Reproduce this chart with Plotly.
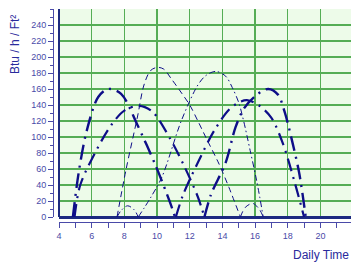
import plotly.graph_objects as go

# Hours and values (Btu/h/Ft²)
e_x = [4.85, 5.2, 5.7, 6.4, 7.0, 7.8, 8.8, 9.9, 10.8, 11.1]
e_y = [0, 55, 108, 150, 160, 154, 115, 65, 18, 0]

se_x = [4.95, 5.3, 6.2, 7.2, 8.0, 8.9, 9.7, 10.8, 11.7, 12.5, 12.9]
se_y = [0, 40, 80, 115, 133, 139, 132, 98, 62, 25, 0]

sw_x = [11.15, 11.6, 12.5, 13.5, 14.4, 15.0, 15.5, 16.2, 17.0, 17.7, 18.4, 19.0]
sw_y = [0, 28, 68, 108, 134, 143, 146, 140, 124, 92, 45, 0]

w_x = [12.9, 13.3, 14.2, 14.8, 15.3, 16.0, 16.8, 17.4, 17.8, 18.3, 18.7, 19.1]
w_y = [0, 28, 68, 112, 135, 151, 160, 153, 132, 92, 55, 0]

a_x = [7.55, 8.1, 8.8, 9.2, 9.6, 10.0, 10.4, 10.9, 11.5, 12.0, 12.5, 13.0, 13.8, 14.4, 15.1]
a_y = [0, 59, 125, 165, 183, 187, 185, 172, 155, 140, 120, 99, 66, 37, 0]
a2_x = [15.1, 15.4, 15.85, 16.25, 16.5]
a2_y = [0, 12, 17, 10, 0]

b_x = [8.85, 9.6, 10.3, 11.5, 12.5, 13.0, 13.6, 14.2, 14.6, 15.0, 15.3, 15.7, 16.1, 16.5]
b_y = [0, 24, 50, 121, 165, 177, 182, 176, 162, 143, 120, 83, 45, 0]
b2_x = [7.55, 7.8, 8.2, 8.6, 8.85]
b2_y = [0, 8, 14, 9, 0]

y_ticks = list(range(0, 241, 20))
x_ticks = list(range(4, 21, 2))

navy = "#0e0e88"
label_col = "#4a4aa8"
title_col = "#2a2a9c"
grid_col = "#55ad55"

fig = go.Figure()

def add(x, y, width, dash):
    fig.add_trace(go.Scatter(x=x, y=y, mode="lines",
                             line=dict(color=navy, width=width, dash=dash, shape="spline", smoothing=0.9),
                             hoverinfo="skip", showlegend=False))

add(e_x, e_y, 2.4, "15px,6px,2px,6px")
add(w_x, w_y, 2.4, "15px,6px,2px,6px")
add(se_x, se_y, 2.2, "13px,6px,2px,6px")
add(sw_x, sw_y, 2.2, "13px,6px,2px,6px")
add(a_x, a_y, 1.0, "6px,4px")
add(a2_x, a2_y, 1.0, "6px,4px")
add(b_x, b_y, 1.0, "6px,3px,1.5px,3px")
add(b2_x, b2_y, 1.0, "6px,3px,1.5px,3px")

W, H = 351, 266
L, R, T, B = 53, 0, 9, 44
pw, ph = W - L - R, H - T - B
x0 = (59 - L) / pw
y0 = (222 - 217) / ph

fig.update_layout(
    width=W, height=H,
    margin=dict(l=L, r=R, t=T, b=B, pad=0),
    paper_bgcolor="white",
    plot_bgcolor="#edfbe9",
    font=dict(family="Liberation Sans, Arial, sans-serif", size=9, color=label_col),
    xaxis=dict(
        range=[4, 21.87], domain=[x0, 1], anchor="free", position=0,
        tickmode="array", tickvals=x_ticks, ticktext=[str(v) for v in x_ticks],
        ticks="outside", ticklen=5, tickwidth=1, tickcolor=label_col,
        showline=True, linecolor=label_col, linewidth=1,
        showgrid=True, gridcolor=grid_col, gridwidth=1.2,
        minor=dict(dtick=1, tick0=4, ticks="outside", ticklen=5, tickcolor=label_col, showgrid=False),
        zeroline=False, automargin=False,
        tickfont=dict(size=9, color=label_col),
    ),
    yaxis=dict(
        range=[0, 260], domain=[y0, 1], anchor="free", position=0,
        tickmode="array", tickvals=y_ticks, ticktext=[str(v) for v in y_ticks],
        ticks="outside", ticklen=5, tickwidth=1, tickcolor=label_col,
        showline=True, linecolor=label_col, linewidth=1,
        showgrid=True, gridcolor=grid_col, gridwidth=1.2,
        minor=dict(dtick=10, tick0=0, ticks="outside", ticklen=3, tickcolor=label_col, showgrid=False),
        zeroline=True, zerolinecolor="#1c2a80", zerolinewidth=3, automargin=False,
        tickfont=dict(size=9, color=label_col),
    ),
    shapes=[dict(type="line", xref="paper", yref="paper", x0=x0, x1=x0, y0=y0, y1=1,
                 line=dict(color="#1c2a80", width=2))],
    annotations=[
        dict(text="Btu / h / Ft²", xref="paper", yref="paper",
             x=(15 - L) / pw, y=1 - (45 - T) / ph, textangle=-90,
             showarrow=False, xanchor="center", yanchor="middle",
             font=dict(size=12, color=title_col)),
        dict(text="Daily Time", xref="paper", yref="paper",
             x=(351 - L) / pw, y=1 - (255 - T) / ph,
             showarrow=False, xanchor="right", yanchor="middle",
             font=dict(size=12, color=title_col)),
    ],
)

fig.write_html("out.html", config={"displayModeBar": False, "staticPlot": True},
               post_script="document.body.style.margin='0';document.body.style.overflow='hidden';")
